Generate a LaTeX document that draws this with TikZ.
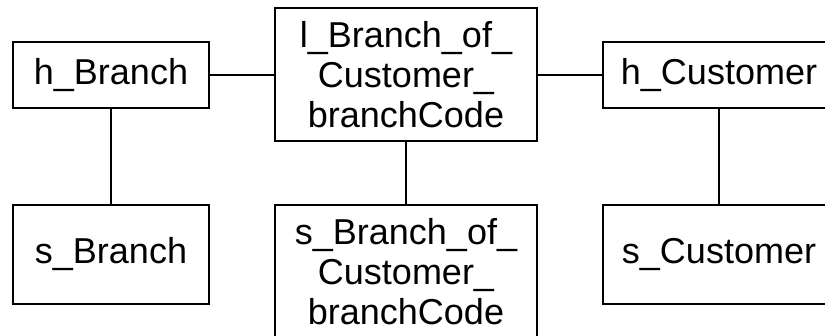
\documentclass[tikz,border=0pt]{standalone}
\usepackage{fontspec}
\setmainfont{Liberation Sans}
\usetikzlibrary{positioning}

\tikzset{
  tbl/.style={draw, line width=1pt, align=center, inner sep=0pt,
    font=\fontsize{18}{20}\selectfont},
  hub/.style={tbl, minimum width=98pt, minimum height=33pt},
  link/.style={tbl, minimum width=131pt, minimum height=66.5pt},
  sat/.style={tbl, minimum width=98pt, minimum height=49.5pt},
}

\begin{document}
\begin{tikzpicture}[on grid, line width=1pt]
		\useasboundingbox (0,0) rectangle (412.5pt,-168pt);
		\node[hub]	(h_branch) 	at (55.5pt,-37.5pt) 	{h\_Branch};
		\node[link]	(l_link)	[right=147.5pt of h_branch]	{l\_Branch\_of\_\\Customer\_\\branchCode};
		\node[hub, minimum width=116pt]	(h_customer)	[right=156.5pt of l_link]	{h\_Customer};
		\node[sat]	(s_branch)	[below=89.75pt of h_branch]	{s\_Branch};
		\node[link]	(s_link)	[below=98.5pt of l_link]	{s\_Branch\_of\_\\Customer\_\\branchCode};
		\node[sat, minimum width=116pt]	(s_customer)	[below=89.75pt of h_customer]	{s\_Customer};
		\path[draw]
			(h_branch) 	edge 	(l_link)
						edge	(s_branch)
			(l_link)	edge	(h_customer)
						edge	(s_link)
			(h_customer)	edge	(s_customer);
	\end{tikzpicture}
\end{document}
